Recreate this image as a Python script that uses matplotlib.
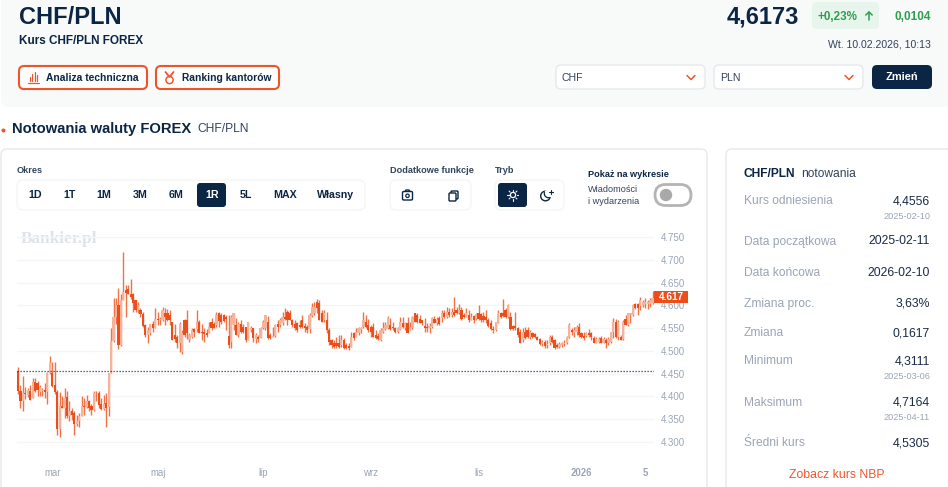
import matplotlib
matplotlib.use("Agg")
import matplotlib.pyplot as plt
from matplotlib.patches import FancyBboxPatch, Rectangle, Circle, Arc

plt.rcParams['font.family'] = ['Liberation Sans', 'DejaVu Sans']

W, H = 948, 487
NAVY = '#0b2545'
ORANGE = '#e94e1b'
GRAY = '#9aa5b5'

opens = [4.455,4.412,4.39,4.407,4.403,4.412,4.396,4.431,4.429,4.41,4.413,4.414,4.41,4.452,4.451,4.425,4.41,4.328,4.379,4.375,
4.398,4.356,4.369,4.363,4.339,4.345,4.358,4.379,4.377,4.389,4.378,4.371,4.408,4.407,4.383,4.373,4.385,4.376,4.451,4.521,
4.575,4.60,4.512,4.612,4.634,4.635,4.625,4.625,4.612,4.59,4.59,4.58,4.557,4.535,4.54,4.56,4.55,4.57,4.568,4.568,
4.583,4.583,4.579,4.564,4.535,4.531,4.517,4.498,4.568,4.568,4.524,4.531,4.547,4.547,4.564,4.542,4.542,4.54,4.539,4.564,
4.56,4.557,4.583,4.579,4.579,4.575,4.532,4.52,4.557,4.557,4.535,4.56,4.553,4.553,4.524,4.546,4.551,4.526,4.531,4.528,
4.55,4.55,4.564,4.535,4.531,4.533,4.56,4.557,4.561,4.575,4.585,4.583,4.568,4.56,4.561,4.557,4.567,4.555,4.553,4.548,
4.577,4.583,4.608,4.605,4.583,4.568,4.568,4.546,4.524,4.517,4.518,4.517,4.513,4.524,4.513,4.511,4.509,4.539,4.531,4.539,
4.546,4.553,4.564,4.556,4.553,4.553,4.535,4.533,4.523,4.542,4.548,4.55,4.557,4.553,4.551,4.542,4.546,4.562,4.55,4.561,
4.546,4.55,4.583,4.579,4.57,4.568,4.555,4.553,4.55,4.553,4.57,4.562,4.573,4.572,4.584,4.575,4.585,4.579,4.586,4.59,
4.583,4.589,4.579,4.574,4.579,4.567,4.577,4.57,4.583,4.581,4.577,4.574,4.567,4.562,4.548,4.546,4.562,4.583,4.584,4.59,
4.574,4.575,4.555,4.555,4.55,4.542,4.524,4.542,4.545,4.53,4.539,4.537,4.531,4.526,4.516,4.519,4.513,4.517,4.531,4.524,
4.513,4.509,4.513,4.516,4.517,4.531,4.546,4.539,4.542,4.553,4.539,4.533,4.533,4.54,4.539,4.528,4.518,4.52,4.528,4.518,
4.524,4.518,4.52,4.542,4.564,4.531,4.531,4.526,4.57,4.557,4.579,4.579,4.602,4.603,4.599,4.601,4.603,4.603,4.603,4.605]

closes = [4.412,4.39,4.407,4.405,4.415,4.392,4.431,4.412,4.414,4.42,4.413,4.41,4.452,4.473,4.422,4.41,4.328,4.379,4.375,4.397,
4.356,4.369,4.36,4.339,4.347,4.358,4.379,4.377,4.389,4.374,4.371,4.408,4.407,4.381,4.373,4.383,4.374,4.451,4.521,4.575,
4.60,4.513,4.612,4.63,4.628,4.625,4.619,4.605,4.59,4.60,4.58,4.555,4.535,4.545,4.56,4.55,4.57,4.568,4.57,4.59,
4.575,4.568,4.568,4.524,4.525,4.517,4.56,4.54,4.535,4.539,4.535,4.546,4.542,4.564,4.539,4.539,4.537,4.535,4.553,4.55,
4.55,4.579,4.565,4.564,4.565,4.571,4.513,4.575,4.583,4.535,4.56,4.542,4.542,4.524,4.564,4.551,4.528,4.535,4.526,4.55,
4.564,4.579,4.528,4.528,4.533,4.557,4.553,4.568,4.575,4.57,4.568,4.568,4.557,4.55,4.546,4.552,4.553,4.55,4.546,4.579,
4.597,4.597,4.594,4.568,4.564,4.583,4.546,4.52,4.512,4.509,4.511,4.509,4.524,4.506,4.506,4.506,4.531,4.528,4.542,4.55,
4.55,4.567,4.553,4.546,4.542,4.531,4.528,4.526,4.546,4.55,4.557,4.573,4.548,4.55,4.542,4.55,4.564,4.553,4.561,4.54,
4.553,4.575,4.564,4.564,4.562,4.561,4.55,4.55,4.555,4.572,4.562,4.568,4.559,4.583,4.574,4.586,4.579,4.586,4.579,4.583,
4.59,4.57,4.574,4.583,4.567,4.574,4.567,4.581,4.57,4.568,4.567,4.567,4.555,4.548,4.546,4.564,4.583,4.575,4.577,4.574,
4.601,4.548,4.548,4.55,4.535,4.518,4.542,4.528,4.53,4.542,4.531,4.53,4.524,4.515,4.52,4.51,4.516,4.531,4.52,4.506,
4.509,4.515,4.517,4.518,4.531,4.557,4.541,4.545,4.553,4.535,4.53,4.528,4.54,4.535,4.531,4.518,4.525,4.525,4.518,4.525,
4.518,4.525,4.542,4.564,4.531,4.564,4.524,4.564,4.557,4.583,4.583,4.601,4.594,4.594,4.611,4.608,4.608,4.608,4.611,4.617]

highs = [4.465,4.425,4.444,4.42,4.418,4.425,4.44,4.441,4.433,4.425,4.418,4.429,4.454,4.488,4.475,4.475,4.415,4.41,4.40,4.418,
4.413,4.389,4.375,4.367,4.36,4.363,4.402,4.396,4.403,4.392,4.383,4.412,4.412,4.411,4.396,4.403,4.407,4.451,4.551,4.616,
4.616,4.639,4.625,4.718,4.645,4.645,4.657,4.627,4.612,4.608,4.594,4.586,4.56,4.553,4.56,4.565,4.594,4.586,4.575,4.596,
4.594,4.592,4.59,4.564,4.56,4.535,4.564,4.546,4.57,4.59,4.539,4.55,4.55,4.59,4.568,4.56,4.55,4.548,4.564,4.572,
4.564,4.585,4.586,4.583,4.581,4.579,4.579,4.579,4.583,4.572,4.564,4.568,4.56,4.553,4.564,4.555,4.551,4.539,4.535,4.553,
4.568,4.579,4.577,4.539,4.553,4.56,4.568,4.572,4.586,4.594,4.589,4.59,4.57,4.567,4.564,4.567,4.579,4.561,4.557,4.583,
4.606,4.608,4.615,4.611,4.589,4.589,4.586,4.55,4.526,4.524,4.531,4.535,4.535,4.528,4.517,4.517,4.542,4.542,4.55,4.553,
4.553,4.585,4.579,4.57,4.557,4.562,4.546,4.539,4.55,4.564,4.564,4.577,4.572,4.564,4.553,4.553,4.574,4.575,4.564,4.575,
4.564,4.577,4.584,4.583,4.579,4.568,4.572,4.561,4.561,4.574,4.577,4.575,4.577,4.59,4.59,4.597,4.594,4.594,4.618,4.597,
4.603,4.597,4.584,4.594,4.589,4.583,4.579,4.583,4.601,4.583,4.586,4.589,4.572,4.567,4.555,4.564,4.59,4.586,4.614,4.594,
4.603,4.586,4.557,4.585,4.553,4.548,4.55,4.552,4.552,4.546,4.542,4.539,4.533,4.528,4.524,4.523,4.524,4.535,4.535,4.526,
4.517,4.52,4.52,4.523,4.533,4.561,4.55,4.553,4.557,4.562,4.542,4.542,4.542,4.548,4.542,4.533,4.531,4.53,4.533,4.531,
4.528,4.53,4.542,4.572,4.57,4.567,4.535,4.567,4.579,4.583,4.583,4.603,4.605,4.606,4.618,4.612,4.616,4.612,4.616,4.632]

lows = [4.405,4.374,4.369,4.395,4.398,4.392,4.396,4.41,4.40,4.40,4.40,4.397,4.384,4.449,4.42,4.405,4.315,4.31,4.374,4.352,
4.352,4.345,4.348,4.315,4.335,4.334,4.356,4.36,4.374,4.367,4.359,4.368,4.389,4.374,4.37,4.37,4.332,4.358,4.451,4.52,
4.56,4.504,4.51,4.612,4.575,4.625,4.615,4.586,4.586,4.583,4.575,4.553,4.53,4.518,4.535,4.542,4.55,4.557,4.557,4.565,
4.557,4.565,4.557,4.524,4.52,4.506,4.498,4.493,4.531,4.526,4.52,4.528,4.531,4.542,4.539,4.524,4.52,4.531,4.539,4.546,
4.55,4.553,4.553,4.56,4.564,4.546,4.506,4.506,4.546,4.535,4.531,4.539,4.539,4.52,4.524,4.542,4.52,4.518,4.52,4.528,
4.548,4.546,4.526,4.526,4.53,4.531,4.542,4.553,4.557,4.567,4.557,4.567,4.553,4.546,4.542,4.55,4.55,4.542,4.539,4.539,
4.575,4.579,4.583,4.567,4.564,4.564,4.539,4.513,4.506,4.506,4.506,4.506,4.509,4.504,4.504,4.501,4.508,4.524,4.531,4.535,
4.539,4.55,4.55,4.542,4.531,4.53,4.526,4.524,4.522,4.539,4.546,4.548,4.546,4.546,4.539,4.539,4.546,4.55,4.546,4.54,
4.546,4.548,4.564,4.562,4.561,4.557,4.541,4.542,4.54,4.55,4.561,4.557,4.557,4.564,4.572,4.572,4.574,4.574,4.577,4.581,
4.581,4.568,4.572,4.574,4.564,4.567,4.562,4.567,4.568,4.564,4.564,4.562,4.553,4.546,4.54,4.544,4.561,4.572,4.574,4.572,
4.573,4.546,4.546,4.546,4.531,4.517,4.52,4.526,4.528,4.526,4.528,4.528,4.523,4.513,4.511,4.506,4.506,4.513,4.518,4.504,
4.506,4.506,4.509,4.511,4.515,4.528,4.535,4.531,4.535,4.531,4.528,4.524,4.53,4.53,4.524,4.517,4.517,4.517,4.517,4.517,
4.506,4.513,4.517,4.528,4.528,4.524,4.523,4.524,4.557,4.555,4.561,4.577,4.591,4.579,4.59,4.596,4.594,4.591,4.597,4.604]

reference_rate = 4.4556
last_rate = 4.617
y_ticks = [4.30, 4.35, 4.40, 4.45, 4.50, 4.55, 4.60, 4.65, 4.70, 4.75]
x_tick_index = [14, 57, 100, 144, 188, 230, 256]
x_tick_labels = ['mar', 'maj', 'lip', 'wrz', 'lis', '2026', '5']
periods = ['1D', '1T', '1M', '3M', '6M', '1R', '5L', 'MAX', 'Własny']
period_x = [35, 70, 104, 140, 176, 212, 246, 285, 336]
stat_labels = ['Kurs odniesienia', 'Data początkowa', 'Data końcowa', 'Zmiana proc.', 'Zmiana', 'Minimum', 'Maksimum', 'Średni kurs']
stat_values = ['4,4556', '2025-02-11', '2026-02-10', '3,63%', '0,1617', '4,3111', '4,7164', '4,5305']
stat_dates = ['2025-02-10', '', '', '', '', '2025-03-06', '2025-04-11', '']
stat_y = [201, 241, 272, 303, 333, 361, 402, 443]

fig = plt.figure(figsize=(W / 100, H / 100), dpi=100, facecolor='white')
ui = fig.add_axes([0, 0, 1, 1])
ui.set_xlim(0, W)
ui.set_ylim(H, 0)
ui.axis('off')


def box(x0, y0, x1, y1, r=5, fc='white', ec='none', lw=1.0, z=1):
    ui.add_patch(FancyBboxPatch((x0 + r, y0 + r), x1 - x0 - 2 * r, y1 - y0 - 2 * r,
                                boxstyle=f'round,pad={r},rounding_size={r}',
                                fc=fc, ec=ec, lw=lw, zorder=z))


def txt(x, y, s, px=11, color=NAVY, weight='normal', ha='left', va='center', z=5, **kw):
    ui.text(x, y + 1, s, fontsize=px * 0.72, color=color, fontweight=weight, ha=ha, va=va, zorder=z, **kw)


def stroke(xs, ys, color=NAVY, lw=1.0, z=6):
    ui.plot(xs, ys, color=color, lw=lw, solid_capstyle='round', zorder=z)


# top panel
box(1, -20, 960, 107, r=8, fc='#f8f9f9')
txt(19, 16, 'CHF/PLN', 23.6, weight='bold')
txt(19, 40, 'Kurs CHF/PLN FOREX', 11.8, weight='bold')
box(19, 66, 147, 89, r=5, ec='#f0552a', lw=1.5, z=2)
box(156, 66, 279, 89, r=5, ec='#f0552a', lw=1.5, z=2)
txt(46, 77, 'Analiza techniczna', 10.3, weight='bold')
txt(182, 77, 'Ranking kantorów', 10.3, weight='bold')
for bx, top in zip([30, 32.5, 35, 37.5], [77, 74, 72, 75]):
    stroke([bx, bx], [81, top], '#f0552a', 0.9)
stroke([28, 39], [82.5, 82.5], '#f0552a', 0.9)
ui.add_patch(Circle((169.5, 80), 3.6, fc='none', ec='#f0552a', lw=1.1, zorder=6))
stroke([165.5, 169.5, 173.5], [72, 77, 72], '#f0552a', 1.3)

txt(727, 16, '4,6173', 23.6, weight='bold')
box(812, 2, 879, 29, r=5, fc='#e8f5ec', z=2)
txt(818, 15.5, '+0,23%', 11.6, color='#2e9e4f', weight='bold')
stroke([869, 869], [12, 20], '#2e9e4f', 1.1)
stroke([865.8, 869, 872.2], [15, 12, 15], '#2e9e4f', 1.1)
txt(931, 15.5, '0,0104', 11.8, color='#2e9e4f', weight='bold', ha='right')
txt(931, 43.5, 'Wt. 10.02.2026, 10:13', 10.5, color='#33435c', ha='right')
box(556, 65, 705, 89, r=5, ec='#e6e8eb', z=2)
box(714, 65, 863, 89, r=5, ec='#e6e8eb', z=2)
txt(562, 77, 'CHF', 10.5, color='#33435c')
txt(720, 77, 'PLN', 10.5, color='#33435c')
for cx in (691, 849):
    stroke([cx - 4, cx, cx + 4], [75.5, 79.5, 75.5], '#f0552a', 1.1)
box(872, 65, 932, 89, r=5, fc=NAVY, z=2)
txt(902, 76, 'Zmień', 11, color='white', weight='bold', ha='center')

# section title
ui.add_patch(Circle((3.5, 130.5), 2, fc='#f0552a', ec='none', zorder=5))
txt(12, 128, 'Notowania waluty FOREX', 14.8, weight='bold')
txt(197, 128.5, 'CHF/PLN', 12, color='#33435c')

# cards
box(1, 149, 707, 520, r=6, ec='#e6e8eb', z=1)
box(726, 149, 980, 520, r=6, ec='#e6e8eb', z=1)

txt(17, 169.5, 'Okres', 9.2, color='#33435c', weight='bold')
box(17, 180, 365, 210, r=6, ec='#f4f5f6', z=2)
box(197, 183, 226, 207, r=3, fc=NAVY, z=3)
for label, px_x in zip(periods, period_x):
    txt(px_x, 194.5, label, 10.6, color='white' if label == '1R' else NAVY, weight='bold', ha='center')

txt(390, 169.5, 'Dodatkowe funkcje', 9.1, color='#33435c', weight='bold')
box(390, 180, 471, 210, r=6, ec='#f4f5f6', z=2)
box(402.5, 191.5, 412.5, 200, r=1.2, ec=NAVY, lw=1.0, z=4)
stroke([405, 406, 409, 410], [191.5, 190, 190, 191.5], NAVY, 1.0)
ui.add_patch(Circle((407.5, 195.8), 1.7, fc='none', ec=NAVY, lw=0.9, zorder=6))
box(451, 191, 458, 199, r=1, ec=NAVY, lw=1.0, z=4)
box(449, 193, 456, 201, r=1, fc='white', ec=NAVY, lw=1.0, z=5)

txt(495, 169.5, 'Tryb', 9.2, color='#33435c', weight='bold')
box(495, 180, 564, 210, r=6, ec='#f4f5f6', z=2)
box(498, 183, 527, 207, r=3, fc=NAVY, z=3)
ui.add_patch(Circle((513, 195), 2.6, fc='none', ec='white', lw=0.9, zorder=6))
for dx, dy in [(0, 5.5), (0, -5.5), (5.5, 0), (-5.5, 0), (3.9, 3.9), (-3.9, 3.9), (3.9, -3.9), (-3.9, -3.9)]:
    stroke([513 + dx * 0.75, 513 + dx], [195 + dy * 0.75, 195 + dy], 'white', 0.8)
ui.add_patch(Circle((545.5, 196), 4.8, fc='none', ec=NAVY, lw=1.0, zorder=6))
ui.add_patch(Circle((548.5, 193.5), 4.2, fc='white', ec='none', zorder=7))
ui.add_patch(Arc((548.5, 193.5), 8.4, 8.4, theta1=70, theta2=200, ec=NAVY, lw=0.9, zorder=8))
stroke([551.5, 551.5], [190, 194], NAVY, 0.8, z=9)
stroke([549.5, 553.5], [192, 192], NAVY, 0.8, z=9)

txt(588, 173.5, 'Pokaż na wykresie', 9.1, weight='bold')
txt(588, 188.5, 'Wiadomości', 9.2, color='#33435c')
txt(588, 200, 'i wydarzenia', 9.2, color='#33435c')
box(655, 184.5, 691, 205.5, r=10.5, ec='#b4b4b4', lw=2, z=2)
ui.add_patch(Circle((666, 195), 6.2, fc='#a9a9a9', ec='none', zorder=4))

# stats panel
txt(744, 173, 'CHF/PLN', 12, weight='bold')
txt(801, 173, 'notowania', 12, color='#33435c')
for lab, val, dt, yy in zip(stat_labels, stat_values, stat_dates, stat_y):
    txt(744, yy - 0.5, lab, 12, color=GRAY)
    txt(930, yy - 0.5, val, 12.2, color='#1a2b45', ha='right')
    if dt:
        txt(930, yy + 14.5, dt, 9.2, color=GRAY, ha='right')
txt(837, 474, 'Zobacz kurs NBP', 12.2, color='#f0552a', ha='center')

# chart area
txt(21, 238, 'Bankier.pl', 17.2, color='#dfe3e8', weight='bold', family='Liberation Serif')

left, right, top, bottom = 17, 654, 225, 460
ax = fig.add_axes([left / W, 1 - bottom / H, (right - left) / W, (bottom - top) / H])
ax.patch.set_alpha(0)
ax.set_xlim(-0.4, 259.6)
ax.set_ylim(4.30 - (bottom - 442) / 455.5, 4.75 + (237 - top) / 455.5)
for s in ax.spines.values():
    s.set_visible(False)
ax.grid(axis='y', color='#f4f5f7', lw=1)
ax.set_axisbelow(True)
ax.yaxis.tick_right()
ax.set_yticks(y_ticks)
ax.set_yticklabels([f'{v:.3f}' for v in y_ticks], fontsize=7, color=GRAY)
ax.set_xticks(x_tick_index)
ax.set_xticklabels(x_tick_labels, fontsize=6.9, color=GRAY)
ax.tick_params(axis='both', length=0)
ax.tick_params(axis='y', pad=5)
ax.tick_params(axis='x', pad=6)
for lab, t in zip(ax.get_xticklabels(), x_tick_labels):
    if t in ('2026', '5'):
        lab.set_fontweight('bold')

xs = list(range(len(closes)))
ax.vlines(xs, lows, highs, colors='#ee7448', lw=1.0, zorder=3)
for i, (o, c) in enumerate(zip(opens, closes)):
    up = c >= o
    b0, b1 = min(o, c), max(o, c)
    ax.bar(i, max(b1 - b0, 0.0015), bottom=b0, width=0.9,
           color='#f5b39c' if up else ORANGE,
           edgecolor='none', zorder=4)

ax.axhline(reference_rate, color='#2b3a55', lw=0.9, ls=(0, (1, 1.4)), zorder=5)

ax2 = fig.add_axes([0, 0, 1, 1])
ax2.patch.set_alpha(0)
ax2.set_xlim(0, W)
ax2.set_ylim(H, 0)
ax2.axis('off')
ax2.add_patch(Rectangle((654, 291), 34, 12, fc=ORANGE, ec='none'))
ax2.text(671, 297.5, f'{last_rate:.3f}', fontsize=7.2, color='white', fontweight='bold', ha='center', va='center')

fig.savefig('out.png', dpi=100)
